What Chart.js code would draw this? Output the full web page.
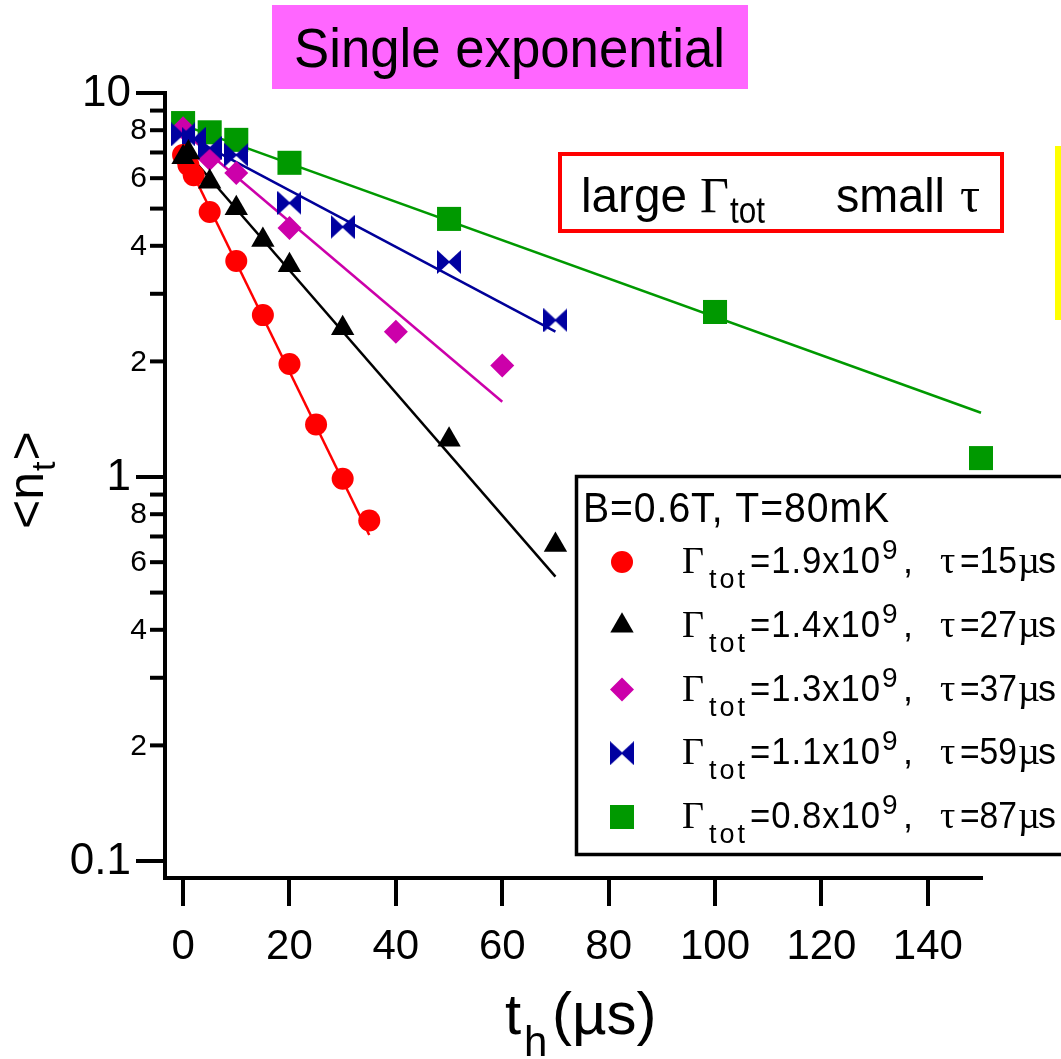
<!DOCTYPE html>
<html><head><meta charset="utf-8">
<script src="https://cdn.jsdelivr.net/npm/chart.js@4/dist/chart.umd.min.js"></script>
<style>html,body{margin:0;padding:0;background:#fff}#wrap{width:1061px;height:1059px;position:relative}</style>
</head><body><div id="wrap"><canvas id="c" width="1061" height="1059"></canvas></div>
<script>
// ---------- data ----------
const xTicks = [0, 20, 40, 60, 80, 100, 120, 140];
const yMajorTicks = [10, 1, 0.1];
const yMajorLabels = ['10', '1', '0.1'];
const yMinorTicks = [9, 8, 7, 6, 5, 4, 3, 2, 0.9, 0.8, 0.7, 0.6, 0.5, 0.4, 0.3, 0.2];
const yMinorLabels = ['', '8', '', '6', '', '4', '', '2', '', '8', '', '6', '', '4', '', '2'];

const tRed = [0, 1, 2, 5, 10, 15, 20, 25, 30, 35];
const nRed = [6.90, 6.49, 6.11, 4.90, 3.65, 2.64, 1.97, 1.37, 0.99, 0.77];
const tBlack = [0, 1, 5, 10, 15, 20, 30, 50, 70];
const nBlack = [6.8, 7.0, 5.87, 5.01, 4.14, 3.56, 2.44, 1.25, 0.665];
const tMag = [0, 5, 10, 20, 40, 60];
const nMag = [8.1, 6.73, 6.19, 4.45, 2.39, 1.95];
const tBlue = [0, 2, 5, 10, 20, 30, 50, 70];
const nBlue = [7.8, 7.6, 7.19, 6.90, 5.17, 4.48, 3.63, 2.56];
const tGreen = [0, 5, 10, 20, 50, 100, 150];
const nGreen = [8.35, 7.9, 7.55, 6.58, 4.70, 2.69, 1.12];

// single-exponential fit lines (end points)
const fitRedT = [0, 35],    fitRedN = [6.95, 0.706];
const fitBlackT = [0, 70],  fitBlackN = [7.2, 0.55];
const fitMagT = [0, 60],    fitMagN = [7.94, 1.57];
const fitBlueT = [0, 70],   fitBlueN = [7.83, 2.39];
const fitGreenT = [0, 150], fitGreenN = [8.25, 1.47];

const legendGamma = ['1.9', '1.4', '1.3', '1.1', '0.8'];
const legendTau = ['15', '27', '37', '59', '87'];
const legendTitle = 'B=0.6T, T=80mK';
const titleText = 'Single exponential';

// ---------- styles ----------
const COL = {red: '#FF0000', black: '#000000', mag: '#CC00AA', blue: '#0000A0', green: '#009900'};
const SANS = '"Liberation Sans", Arial, sans-serif';
const SERIF = '"Liberation Serif", "Times New Roman", serif';

function makeBowtie(size, color) {
  const c = document.createElement('canvas');
  c.width = size; c.height = size;
  const g = c.getContext('2d');
  g.fillStyle = color;
  g.beginPath(); g.moveTo(0, 0); g.lineTo(size / 2 + 1, size / 2); g.lineTo(0, size); g.closePath(); g.fill();
  g.beginPath(); g.moveTo(size, 0); g.lineTo(size / 2 - 1, size / 2); g.lineTo(size, size); g.closePath(); g.fill();
  return c;
}
const bowtie = makeBowtie(24, COL.blue);

const pts = (xs, ys) => xs.map((x, i) => ({x: x, y: ys[i]}));

const markerStyles = [
  {style: 'circle', r: 11, color: COL.red},
  {style: 'triangle', r: 13.5, color: COL.black},
  {style: 'rectRot', r: 12, color: COL.mag},
  {style: bowtie, r: 12, color: COL.blue},
  {style: 'rect', r: 17, color: COL.green}
];

function markerDs(data, m, order) {
  return {data: data, pointStyle: m.style, pointRadius: m.r, backgroundColor: m.color,
          borderColor: m.color, borderWidth: 0, showLine: false, order: order, clip: false};
}
function lineDs(data, color) {
  return {data: data, showLine: true, pointRadius: 0, borderColor: color, borderWidth: 2.5,
          fill: false, order: 20, tension: 0, clip: false};
}

function drawSeq(ctx, baseline, segs) {
  segs.forEach(s => {
    ctx.save();
    ctx.font = s.f;
    ctx.letterSpacing = (s.ls || 0) + 'px';
    ctx.fillStyle = s.c || '#000';
    ctx.textAlign = 'left';
    ctx.textBaseline = 'alphabetic';
    if (s.w) ctx.fillText(s.t, s.x, baseline + (s.dy || 0), s.w);
    else ctx.fillText(s.t, s.x, baseline + (s.dy || 0));
    ctx.restore();
  });
}

const decor = {
  id: 'decor',
  beforeDraw(chart) {
    const ctx = chart.ctx;
    ctx.save(); ctx.fillStyle = '#fff'; ctx.fillRect(0, 0, chart.width, chart.height); ctx.restore();
  },
  afterDraw(chart) {
    const ctx = chart.ctx;
    const ys = chart.scales.y;
    const axX = chart.chartArea.left;
    ctx.save();
    // y ticks and labels
    ctx.strokeStyle = '#000'; ctx.lineWidth = 4; ctx.fillStyle = '#000';
    ctx.textAlign = 'right'; ctx.textBaseline = 'middle';
    yMajorTicks.forEach((v, i) => {
      const y = ys.getPixelForValue(v);
      ctx.beginPath(); ctx.moveTo(axX - 29, y); ctx.lineTo(axX, y); ctx.stroke();
      ctx.font = '44px ' + SANS;
      ctx.fillText(yMajorLabels[i], axX - 34, y + 1);
    });
    yMinorTicks.forEach((v, i) => {
      const y = ys.getPixelForValue(v);
      ctx.beginPath(); ctx.moveTo(axX - 15, y); ctx.lineTo(axX, y); ctx.stroke();
      if (yMinorLabels[i]) {
        ctx.font = '30px ' + SANS;
        ctx.fillText(yMinorLabels[i], axX - 18, y + 1);
      }
    });
    ctx.restore();

    // y title <n_t>
    ctx.save();
    ctx.translate(43, 529);
    ctx.rotate(-Math.PI / 2);
    ctx.fillStyle = '#000'; ctx.textAlign = 'left'; ctx.textBaseline = 'alphabetic';
    ctx.font = '50px ' + SANS;
    let u = 0;
    ctx.fillText('<n', u, 0); u += ctx.measureText('<n').width;
    ctx.font = '34px ' + SANS;
    ctx.fillText('t', u + 1, 12); u += ctx.measureText('t').width + 2;
    ctx.font = '50px ' + SANS;
    ctx.fillText('>', u, 0);
    ctx.restore();

    // x title t_h(µs)
    drawSeq(ctx, 1034, [
      {t: 't', f: '58px ' + SANS, x: 505},
      {t: 'h', f: '42px ' + SANS, x: 524, dy: 22},
      {t: '(µs)', f: '60px ' + SANS, x: 552, w: 109}
    ]);

    // title box
    ctx.save();
    ctx.fillStyle = '#FF66FF';
    ctx.fillRect(272, 5, 476, 84);
    ctx.restore();
    drawSeq(ctx, 67, [{t: titleText, f: '55px ' + SANS, x: 294, w: 431}]);

    // red annotation box
    ctx.save();
    ctx.strokeStyle = '#FF0000'; ctx.lineWidth = 4;
    ctx.strokeRect(560, 154, 442, 77);
    ctx.restore();
    drawSeq(ctx, 212, [
      {t: 'large', f: '48px ' + SANS, x: 581, w: 106},
      {t: 'Γ', f: '50px ' + SERIF, x: 700},
      {t: 'tot', f: '36px ' + SANS, x: 730, dy: 11, w: 35},
      {t: 'small', f: '48px ' + SANS, x: 836, w: 109},
      {t: 'τ', f: '50px ' + SERIF, x: 960}
    ]);

    // yellow strip at right edge
    ctx.save(); ctx.fillStyle = '#FFFF00'; ctx.fillRect(1055, 146, 6, 174); ctx.restore();

    // legend box
    ctx.save();
    ctx.fillStyle = '#fff';
    ctx.fillRect(576, 476, 500, 378);
    ctx.strokeStyle = '#000'; ctx.lineWidth = 3.5;
    ctx.strokeRect(576.5, 476.5, 500, 378);
    ctx.restore();
    drawSeq(ctx, 522, [{t: legendTitle, f: '42px ' + SANS, x: 583, ls: 1, w: 307}]);
    for (let i = 0; i < 5; i++) {
      const yc = 562 + i * 63.75;
      const m = markerStyles[i];
      ctx.save();
      ctx.fillStyle = m.color; ctx.strokeStyle = m.color;
      ctx.beginPath();
      Chart.helpers.drawPoint(ctx, {pointStyle: m.style, radius: m.r, rotation: 0, borderWidth: 0}, 622, yc);
      ctx.restore();
      const b = yc + 11;
      drawSeq(ctx, b, [
        {t: 'Γ', f: '38px ' + SERIF, x: 682},
        {t: 'tot', f: '27px ' + SANS, x: 709, dy: 15, ls: 3},
        {t: '=' + legendGamma[i] + 'x10', f: '36px ' + SANS, x: 750, ls: 1, w: 131},
        {t: '9', f: '28px ' + SANS, x: 882, dy: -14},
        {t: ',', f: '36px ' + SANS, x: 903},
        {t: 'τ', f: '38px ' + SERIF, x: 940},
        {t: '=' + legendTau[i], f: '36px ' + SANS, x: 960, w: 57},
        {t: 'µ', f: '38px ' + SERIF, x: 1018},
        {t: 's', f: '36px ' + SANS, x: 1038}
      ]);
    }
  }
};

new Chart(document.getElementById('c'), {
  type: 'scatter',
  data: {
    datasets: [
      lineDs(pts(fitRedT, fitRedN), COL.red),
      lineDs(pts(fitBlackT, fitBlackN), COL.black),
      lineDs(pts(fitMagT, fitMagN), COL.mag),
      lineDs(pts(fitBlueT, fitBlueN), '#000099'),
      lineDs(pts(fitGreenT, fitGreenN), COL.green),
      markerDs(pts(tGreen, nGreen), markerStyles[4], 10),
      markerDs(pts(tMag, nMag), markerStyles[2], 9),
      markerDs(pts(tBlue, nBlue), markerStyles[3], 8),
      markerDs(pts(tRed, nRed), markerStyles[0], 7),
      markerDs(pts(tBlack, nBlack), markerStyles[1], 6)
    ]
  },
  options: {
    responsive: false,
    animation: false,
    events: [],
    devicePixelRatio: 1,
    layout: {padding: {top: 93, right: 80, left: 0, bottom: 0}},
    plugins: {legend: {display: false}, tooltip: {enabled: false}},
    scales: {
      x: {
        type: 'linear', position: 'bottom', min: -3.4, max: 150,
        afterBuildTicks: s => { s.ticks = xTicks.map(v => ({value: v})); },
        afterFit: s => { s.height = 181; },
        grid: {display: true, drawOnChartArea: false, drawTicks: true, tickLength: 28, lineWidth: 4, color: '#000'},
        border: {display: true, color: '#000', width: 4},
        ticks: {color: '#000', font: {family: SANS, size: 42}, padding: 16, maxRotation: 0, autoSkip: false}
      },
      y: {
        type: 'logarithmic', position: 'left', min: 0.0903, max: 10,
        afterFit: s => { s.width = 165; },
        grid: {display: false},
        border: {display: true, color: '#000', width: 4},
        ticks: {display: false}
      }
    }
  },
  plugins: [decor]
});
</script>
</body></html>
